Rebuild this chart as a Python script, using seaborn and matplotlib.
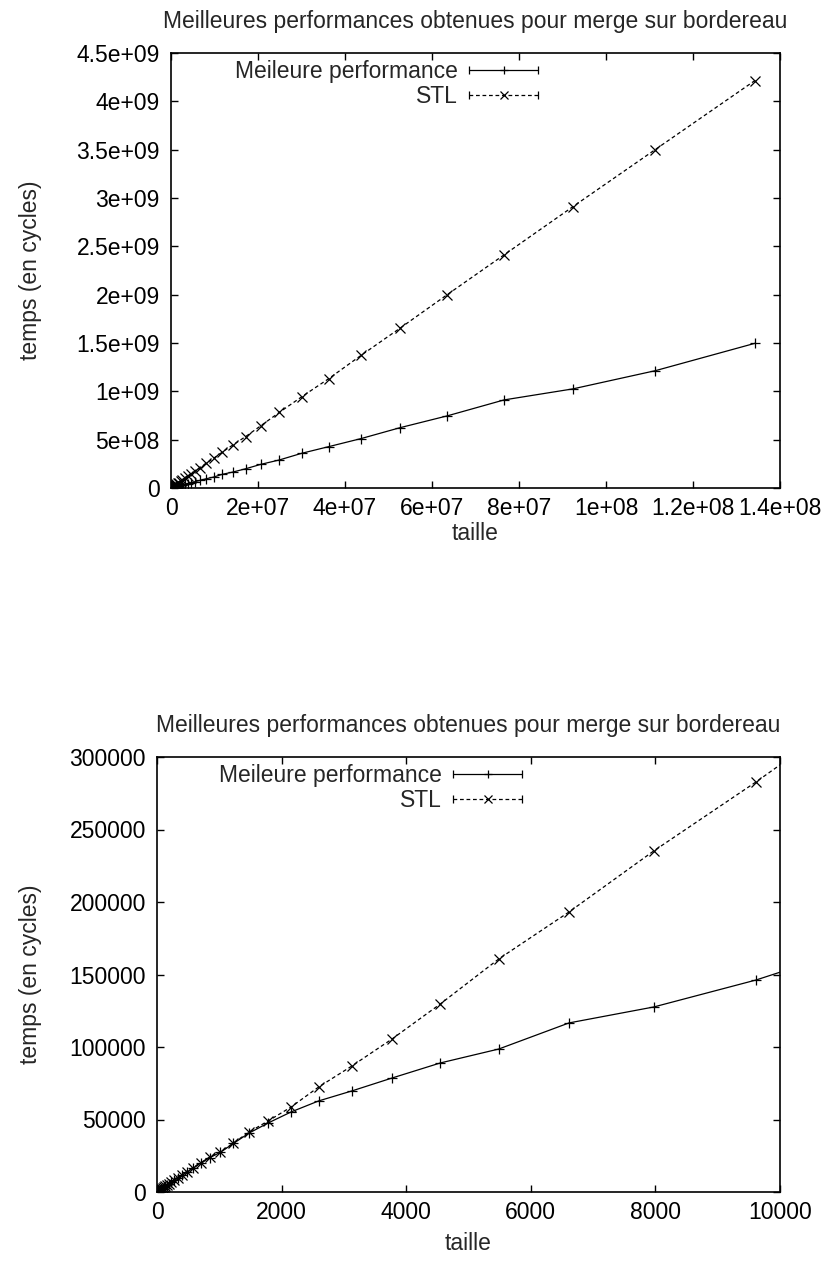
import pandas as pd
import matplotlib
matplotlib.use("Agg")
import matplotlib.pyplot as plt
import seaborn as sns
from matplotlib.lines import Line2D
from matplotlib.legend_handler import HandlerBase
from matplotlib.ticker import FuncFormatter, MultipleLocator

# tailles testees (nombre d'elements)
taille = [9, 11, 14, 17, 20, 24, 29, 35, 42, 51,
          61, 74, 89, 108, 130, 157, 189, 228, 275, 331,
          399, 481, 581, 700, 844, 1018, 1227, 1480, 1784, 2152,
          2594, 3128, 3772, 4548, 5485, 6613, 7973, 9615,
          11594, 13980, 16856, 20325, 24509, 29553, 35637, 42968, 51811, 62473,
          75327, 90835, 109521, 132058, 159247, 192020, 231535, 279178, 336610, 405930,
          489440, 590180, 711620, 858010, 1034670, 1247580, 1504330, 1813880, 2187180, 2637420,
          3180080, 3834560, 4623700, 5575000, 6722700, 8105900, 9774700, 11785600, 14210800, 17136000,
          20662000, 24916000, 30041000, 36223000, 43679000, 52667000, 63508000, 76579000, 92331000, 111340000,
          134250000]

# temps en cycles
meilleure = [440, 490, 570, 640, 710, 810, 930, 1100, 1300, 1550,
             1840, 2210, 2650, 3200, 3850, 4620, 5560, 6700, 8050, 9650,
             11550, 13800, 16550, 19800, 23600, 27400, 33500, 40700, 47600, 55200,
             62800, 69700, 78600, 89000, 98600, 116600, 127600, 146200,
             173900, 208300, 249500, 298800, 357800, 428500, 513200, 614400, 735700, 880900,
             1054600, 1262600, 1511400, 1809200, 2165800, 2592300, 3102600, 3713100, 4443300, 5317700,
             6362700, 7613300, 9108700, 10896700, 13036800, 15594800, 18653700, 22310700, 26683600, 31912800,
             38161000, 46014700, 55022000, 66342500, 79327900, 95649600, 113000000, 141427000, 164845000, 198778000,
             244845000, 290271000, 359000000, 427431000, 511044000, 624104000, 746219000, 911290000, 1024874000, 1213606000,
             1496888000]

stl = [450, 500, 580, 650, 720, 830, 950, 1120, 1320, 1580,
       1870, 2250, 2700, 3250, 3900, 4700, 5650, 6800, 8150, 9800,
       11700, 14000, 16800, 20100, 24100, 27600, 33800, 41400, 49000, 58600,
       72400, 86900, 105500, 129700, 160700, 193100, 235200, 282800,
       343200, 415200, 502300, 607700, 735300, 886600, 1072700, 1293300, 1564700, 1886700,
       2282400, 2752300, 3329400, 4014600, 4857000, 5856600, 7085000, 8542800, 10334000, 12462000,
       15075000, 18178000, 21989000, 26513000, 32075000, 38675000, 46785000, 56412000, 68240000, 82288000,
       99537000, 120022000, 144722000, 175055000, 211093000, 254525000, 306926000, 371246000, 444798000, 531216000,
       644654000, 782362000, 943287000, 1130158000, 1371521000, 1653744000, 2000502000, 2412239000, 2908427000, 3501643000,
       4215450000]

titre = "Meilleures performances obtenues pour merge sur bordereau"
noms = ["Meileure performance", "STL"]

sns.set_style("ticks")
plt.rcParams["font.family"] = ["Liberation Sans", "DejaVu Sans"]
plt.rcParams.update({
    "font.size": 16.5,
    "xtick.direction": "in", "ytick.direction": "in",
    "xtick.top": True, "ytick.right": True,
    "xtick.major.size": 5, "ytick.major.size": 5,
    "xtick.major.width": 1, "ytick.major.width": 1,
    "axes.edgecolor": "black", "axes.linewidth": 1.2,
    "xtick.color": "black", "ytick.color": "black",
})

df = pd.DataFrame({"taille": taille, noms[0]: meilleure, noms[1]: stl})

styles = {
    noms[0]: dict(marker="+", linestyle="-"),
    noms[1]: dict(marker="x", linestyle=(0, (3, 2.2))),
}


class CleGnuplot(HandlerBase):
    # ligne avec petites barres aux bouts, comme les cles de gnuplot
    def __init__(self, marker, linestyle):
        super().__init__()
        self.marker = marker
        self.linestyle = linestyle

    def create_artists(self, legend, orig_handle, xdescent, ydescent,
                       width, height, fontsize, trans):
        y = height / 2 - ydescent
        x0, x1 = -xdescent, -xdescent + width
        ligne = Line2D([x0, x1], [y, y], color="black", lw=0.9, linestyle=self.linestyle)
        bouts = Line2D([x0, x1], [y, y], ls="none", marker="|", markersize=6,
                       color="black", markeredgewidth=0.9)
        point = Line2D([(x0 + x1) / 2], [y], ls="none", marker=self.marker,
                       markersize=6, color="black", markeredgewidth=0.9)
        for a in (ligne, bouts, point):
            a.set_transform(trans)
        return [ligne, bouts, point]


fmt = FuncFormatter(lambda v, p: "%g" % v)

fig = plt.figure(figsize=(8.27, 12.62), dpi=100)
ax1 = fig.add_axes([171 / 827, 1 - 488 / 1262, 609 / 827, 435 / 1262])
ax2 = fig.add_axes([157 / 827, 1 - 1192 / 1262, 623 / 827, 435 / 1262])

panneaux = [
    (ax1, 1.4e8, 2e7, 4.5e9, 5e8, (0.603, 0.985)),
    (ax2, 10000, 2000, 300000, 50000, (0.586, 0.985)),
]

for ax, xmax, xstep, ymax, ystep, ancre in panneaux:
    for nom in noms:
        sns.lineplot(data=df, x="taille", y=nom, ax=ax, color="black",
                     linewidth=0.9, markersize=7, markeredgewidth=0.9,
                     markeredgecolor="black", markerfacecolor="none",
                     estimator=None, sort=False, **styles[nom])
    ax.set_xlim(0, xmax)
    ax.set_ylim(0, ymax)
    ax.xaxis.set_major_locator(MultipleLocator(xstep))
    ax.yaxis.set_major_locator(MultipleLocator(ystep))
    ax.xaxis.set_major_formatter(fmt)
    ax.yaxis.set_major_formatter(fmt)
    ax.tick_params(axis="both", labelsize=16.5)
    ax.tick_params(axis="x", pad=6.5)
    ax.tick_params(axis="y", pad=8)
    ax.set_title(titre, fontsize=16.5, pad=18)
    ax.set_xlabel("taille", fontsize=16.5)
    ax.set_ylabel("temps (en cycles)", fontsize=16.5)
    ax.grid(False)

    handles = [Line2D([], [], color="black") for _ in noms]
    hmap = {h: CleGnuplot(**styles[n]) for h, n in zip(handles, noms)}
    ax.legend(handles, noms, handler_map=hmap, loc="upper right",
              bbox_to_anchor=ancre, frameon=False, markerfirst=False,
              fontsize=16.5, handlelength=3.0, handletextpad=0.5,
              labelspacing=0.1, borderpad=0, borderaxespad=0)

ax1.yaxis.set_label_coords((42 - 171) / 609, 0.5)
ax2.yaxis.set_label_coords((42 - 157) / 623, 0.5)
ax1.xaxis.set_label_coords(0.5, (488 - 522) / 435)
ax2.xaxis.set_label_coords(0.5, (1192 - 1232) / 435)

fig.savefig("out.png", dpi=100)
